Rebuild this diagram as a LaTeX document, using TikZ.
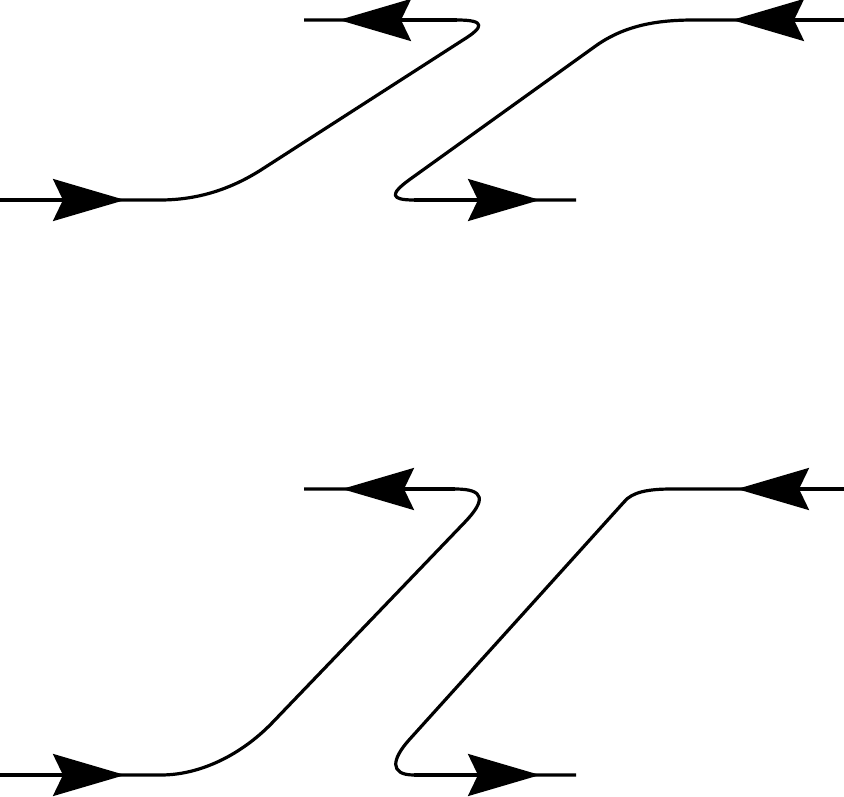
\documentclass[tikz,border=0pt]{standalone}
\usetikzlibrary{arrows.meta}
\tikzset{
  wire/.style={line width=3.2pt, line join=round},
  arr/.style={wire, -{Stealth[length=72pt, width=42pt, inset=10pt]}}
}
\begin{document}
\begin{tikzpicture}[x=1pt,y=-1pt]
\useasboundingbox (0,0) rectangle (844,797);
% ---------- top panel ----------
\coordinate (a0) at (0,200);
\coordinate (a1) at (125,200);
\coordinate (a2) at (160,200);
\coordinate (a3) at (264,168);
\coordinate (a4) at (463,40);
\coordinate (a5) at (457,20);
\coordinate (a6) at (339,20);
\coordinate (a7) at (304,20);
\draw[wire] (a0) -- (a2) .. controls (198,200) and (232,189) .. (a3) -- (a4)
  .. controls (484,27) and (486,20) .. (a5) -- (a7);
\draw[arr] (a0) -- (a1);
\draw[arr] (a5) -- (a6);
\coordinate (b0) at (844,20);
\coordinate (b1) at (732,20);
\coordinate (b2) at (694,20);
\coordinate (b3) at (597,45);
\coordinate (b4) at (409,180);
\coordinate (b5) at (414,200);
\coordinate (b6) at (540,200);
\coordinate (b7) at (576,200);
\draw[wire] (b0) -- (b2) .. controls (658,20) and (626,25) .. (b3) -- (b4)
  .. controls (390,194) and (390,200) .. (b5) -- (b7);
\draw[arr] (b0) -- (b1);
\draw[arr] (b5) -- (b6);
% ---------- bottom panel ----------
\coordinate (c0) at (0,775);
\coordinate (c1) at (125,775);
\coordinate (c2) at (161,775);
\coordinate (c3) at (272,723);
\coordinate (c4) at (465,522);
\coordinate (c5) at (455,489);
\coordinate (c6) at (342,489);
\coordinate (c7) at (304,489);
\draw[wire] (c0) -- (c2) .. controls (200,775) and (241,755) .. (c3) -- (c4)
  .. controls (486,500) and (485,489) .. (c5) -- (c7);
\draw[arr] (c0) -- (c1);
\draw[arr] (c5) -- (c6);
\coordinate (d0) at (844,489);
\coordinate (d1) at (737,489);
\coordinate (d2) at (672,489);
\coordinate (d3) at (624,502);
\coordinate (d4) at (409,740);
\coordinate (d5) at (414,775);
\coordinate (d6) at (540,775);
\coordinate (d7) at (576,775);
\draw[wire] (d0) -- (d2) .. controls (648,489) and (632,492) .. (d3) -- (d4)
  .. controls (392,759) and (389,775) .. (d5) -- (d7);
\draw[arr] (d0) -- (d1);
\draw[arr] (d5) -- (d6);
\end{tikzpicture}
\end{document}
